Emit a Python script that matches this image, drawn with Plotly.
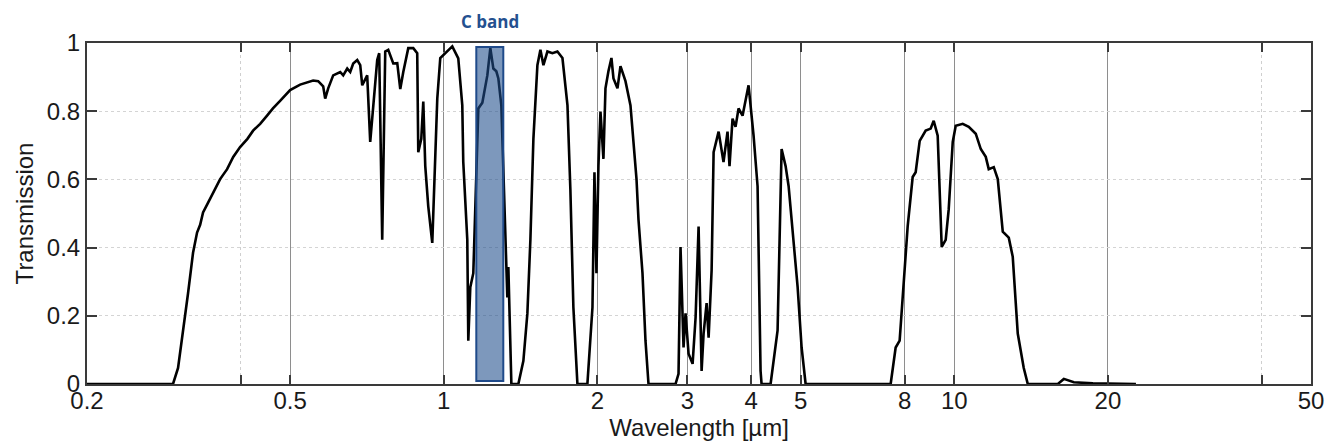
import numpy as np
import plotly.graph_objects as go

# Atmospheric transmission spectrum
wavelength_um = [
    0.2, 0.2948, 0.3016, 0.3084, 0.3155, 0.3227, 0.3286, 0.3332, 0.3376, 0.3440,
    0.3532, 0.3646, 0.3763, 0.3868, 0.3990, 0.4124, 0.4231, 0.4368, 0.4506, 0.4627,
    0.4779, 0.5, 0.5231, 0.5547, 0.5675, 0.5804, 0.5857,
    0.5937, 0.6072, 0.6267, 0.6353, 0.6469, 0.6557, 0.6646, 0.6768, 0.6860, 0.6922,
    0.7016, 0.7079, 0.7176, 0.7274, 0.7406, 0.7473, 0.7575, 0.7679, 0.7784, 0.7962,
    0.8107, 0.8218, 0.8330, 0.8520, 0.8714, 0.8871, 0.8913, 0.9035, 0.9117, 0.9199,
    0.9324, 0.9494, 0.9623, 0.9711, 0.9843, 1.0068, 1.0391, 1.0676, 1.0871, 1.0919,
    1.1119, 1.1169, 1.1271, 1.1425, 1.1530, 1.1686, 1.1900, 1.2171, 1.2337, 1.2506,
    1.2675, 1.2791, 1.2965, 1.3083, 1.3260, 1.3320, 1.3381, 1.3565, 1.3999, 1.4320,
    1.4581, 1.4780, 1.4982, 1.5255, 1.5464, 1.5675, 1.5960, 1.6324, 1.6696, 1.7080,
    1.7471, 1.7701, 1.7943, 1.8273, 1.9114, 1.9557, 1.9732, 1.9911, 2.0090, 2.0275,
    2.0548, 2.0738, 2.1017, 2.1304, 2.1501, 2.1891, 2.2190, 2.2697, 2.3215, 2.3532,
    2.3854, 2.4069, 2.4506, 2.4841, 2.5181, 2.8444, 2.8833, 2.9094, 2.9492, 2.9760,
    3.0170, 3.0723, 3.1140, 3.1565, 3.1996, 3.2286, 3.2727, 3.3024, 3.3475, 3.3777,
    3.4548, 3.5318, 3.5966, 3.6291, 3.6787, 3.7290, 3.7800, 3.8487, 3.8835, 3.9546,
    4.0450, 4.1185, 4.1747, 4.1935, 4.3677, 4.5077, 4.5901, 4.6737, 4.7377, 4.8459,
    4.9344, 5.0237, 5.1153, 7.5073, 7.6786, 7.8176, 7.9610, 8.1058, 8.2908, 8.4040,
    8.5582, 8.7925, 8.9932, 9.1163, 9.2816, 9.3666, 9.4512, 9.6227, 9.7543, 9.9333,
    10.068, 10.392, 10.677, 11.020, 11.272, 11.529, 11.686, 11.953, 12.171, 12.448,
    12.790, 13.022, 13.319, 13.685, 13.935, 15.959, 16.397, 17.153, 18.691, 22.70,
]
transmission = [
    0.0, 0.0, 0.047, 0.148, 0.266, 0.385, 0.444, 0.467, 0.503, 0.527,
    0.562, 0.601, 0.630, 0.666, 0.695, 0.719, 0.743, 0.763, 0.787, 0.808,
    0.830, 0.862, 0.878, 0.890, 0.888, 0.873, 0.837,
    0.867, 0.905, 0.915, 0.905, 0.925, 0.915, 0.940, 0.950, 0.935, 0.876,
    0.896, 0.905, 0.710, 0.808, 0.950, 0.970, 0.423, 0.975, 0.980, 0.940,
    0.941, 0.865, 0.915, 0.985, 0.985, 0.970, 0.680, 0.719, 0.828, 0.639,
    0.521, 0.414, 0.639, 0.837, 0.956, 0.970, 0.990, 0.955, 0.817, 0.651,
    0.423, 0.127, 0.284, 0.325, 0.503, 0.808, 0.825, 0.905, 0.985, 0.925,
    0.917, 0.896, 0.817, 0.621, 0.343, 0.254, 0.343, 0.0, 0.0, 0.068,
    0.207, 0.423, 0.719, 0.935, 0.980, 0.935, 0.975, 0.970, 0.975, 0.956,
    0.817, 0.571, 0.225, 0.0, 0.0, 0.225, 0.621, 0.325, 0.639, 0.799,
    0.660, 0.867, 0.917, 0.956, 0.896, 0.867, 0.932, 0.888, 0.817, 0.710,
    0.601, 0.482, 0.325, 0.127, 0.0, 0.0, 0.030, 0.402, 0.107, 0.207,
    0.089, 0.059, 0.195, 0.462, 0.038, 0.148, 0.237, 0.136, 0.334, 0.680,
    0.740, 0.651, 0.740, 0.639, 0.778, 0.754, 0.808, 0.787, 0.817, 0.876,
    0.728, 0.580, 0.038, 0.0, 0.0, 0.157, 0.689, 0.639, 0.580, 0.402,
    0.284, 0.107, 0.0, 0.0, 0.107, 0.127, 0.284, 0.462, 0.607, 0.621,
    0.713, 0.743, 0.749, 0.772, 0.728, 0.541, 0.402, 0.423, 0.512, 0.710,
    0.757, 0.763, 0.754, 0.734, 0.689, 0.666, 0.630, 0.636, 0.601, 0.447,
    0.429, 0.373, 0.148, 0.047, 0.0, 0.0, 0.015, 0.005, 0.002, 0.0,
]

band_label = "C band"
band_range_um = [1.158, 1.308]
band_range_t = [0.009, 0.988]

x_tickvals = [0.2, 0.5, 1, 2, 3, 4, 5, 8, 10, 20, 50]
x_ticktext = ["0.2", "0.5", "1", "2", "3", "4", "5", "8", "10", "20", "50"]
x_minor_vals = [0.4, 40]
y_tickvals = [0, 0.2, 0.4, 0.6, 0.8, 1]
y_ticktext = ["0", "0.2", "0.4", "0.6", "0.8", "1"]

FONT = "Liberation Sans, Arial, sans-serif"
frame = "#3a3a3a"

fig = go.Figure()
fig.add_trace(go.Scatter(
    x=wavelength_um, y=transmission, mode="lines",
    line=dict(color="black", width=2.6), showlegend=False, hoverinfo="x+y",
))

fig.add_shape(type="rect", xref="x", yref="y",
              x0=band_range_um[0], x1=band_range_um[1],
              y0=band_range_t[0], y1=band_range_t[1],
              fillcolor="rgba(31,78,140,0.58)",
              line=dict(color="#1f4a8a", width=2), layer="above")

fig.add_annotation(text="<b>" + band_label + "</b>", xref="x", yref="paper",
                   x=np.log10(np.sqrt(band_range_um[0] * band_range_um[1])),
                   y=1.064, yanchor="middle", xanchor="center", showarrow=False,
                   font=dict(family="Open Sans, sans-serif", size=17, color="#24508f"))

# The page body adds an 8px offset, so the figure is 8px smaller on each axis.
fig.update_layout(
    width=1332, height=440,
    margin=dict(l=79, r=29, t=35, b=64, autoexpand=False),
    paper_bgcolor="white", plot_bgcolor="white",
    font=dict(family=FONT, size=24, color="#1a1a1a"),
    xaxis=dict(
        type="log", range=[np.log10(0.2), np.log10(50)],
        tickmode="array", tickvals=x_tickvals, ticktext=x_ticktext,
        ticks="inside", ticklen=9, tickwidth=1.5, tickcolor=frame,
        ticklabelstandoff=-6,
        showgrid=True, gridcolor="#8e8e8e", gridwidth=1.4,
        minor=dict(tickmode="array", tickvals=x_minor_vals, ticks="inside",
                   ticklen=9, tickwidth=1.5, tickcolor=frame,
                   showgrid=True, gridcolor="#cfcfcf", griddash="dot", gridwidth=1),
        showline=True, linecolor=frame, linewidth=2, mirror="ticks",
        zeroline=False, automargin=False,
        title=dict(text="Wavelength [µm]", standoff=0, font=dict(size=24)),
        tickfont=dict(size=24),
    ),
    yaxis=dict(
        range=[0, 1], tickmode="array", tickvals=y_tickvals, ticktext=y_ticktext,
        ticks="inside", ticklen=10, tickwidth=1.5, tickcolor=frame,
        showgrid=True, gridcolor="#d4d4d4", griddash="dot", gridwidth=1.2,
        showline=True, linecolor=frame, linewidth=2, mirror="ticks",
        zeroline=False, automargin=False,
        title=dict(text="Transmission", standoff=6, font=dict(size=24)),
        tickfont=dict(size=24),
    ),
)

fig.write_html("out.html")
